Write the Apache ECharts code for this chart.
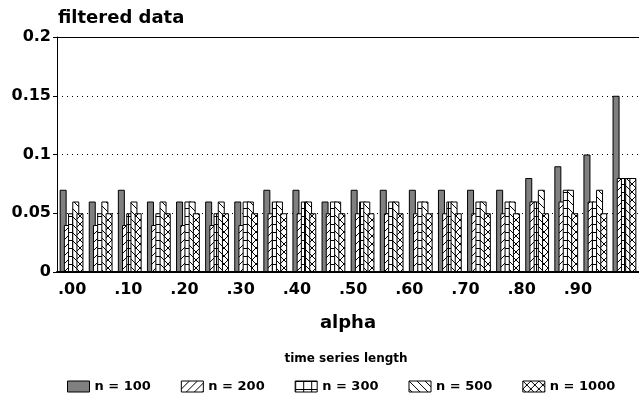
<!DOCTYPE html>
<html>
<head>
<meta charset="utf-8">
<script src="https://cdn.jsdelivr.net/npm/echarts@6/dist/echarts.min.js"></script>
<style>
  html, body { margin: 0; background: #fff; }
  #chart { width: 639px; height: 399px; }
</style>
</head>
<body>
<div id="chart"></div>
<script>
// alpha categories and the labels shown under the axis
const alphas = ['.00', '.05', '.10', '.15', '.20', '.25', '.30', '.35', '.40', '.45',
                '.50', '.55', '.60', '.65', '.70', '.75', '.80', '.85', '.90', '.95'];
const tickLabels = alphas.filter((a, i) => i % 2 === 0);

// values per time series length
const n100  = [0.07, 0.06, 0.07, 0.06, 0.06, 0.06, 0.06, 0.07, 0.07, 0.06, 0.07, 0.07, 0.07, 0.07, 0.07, 0.07, 0.08, 0.09, 0.10, 0.15];
const n200  = [0.04, 0.04, 0.04, 0.04, 0.04, 0.04, 0.04, 0.05, 0.05, 0.05, 0.05, 0.05, 0.05, 0.05, 0.05, 0.05, 0.06, 0.06, 0.06, 0.08];
const n300  = [0.05, 0.05, 0.05, 0.05, 0.06, 0.05, 0.06, 0.06, 0.06, 0.06, 0.06, 0.06, 0.06, 0.06, 0.06, 0.06, 0.06, 0.07, 0.06, 0.08];
const n500  = [0.06, 0.06, 0.06, 0.06, 0.06, 0.06, 0.06, 0.06, 0.06, 0.06, 0.06, 0.06, 0.06, 0.06, 0.06, 0.06, 0.07, 0.07, 0.07, 0.08];
const n1000 = [0.05, 0.05, 0.05, 0.05, 0.05, 0.05, 0.05, 0.05, 0.05, 0.05, 0.05, 0.05, 0.05, 0.05, 0.05, 0.05, 0.05, 0.05, 0.05, 0.08];

const FONT = 'DejaVu Sans';

// small hatch tiles used as bar fills
function hatch(kind) {
  const s = 8;
  const c = document.createElement('canvas');
  c.width = s; c.height = s;
  const g = c.getContext('2d');
  g.fillStyle = '#fff';
  g.fillRect(0, 0, s, s);
  g.strokeStyle = '#000';
  g.lineWidth = 1;
  g.beginPath();
  if (kind === '/' || kind === 'x') { g.moveTo(0, s); g.lineTo(s, 0); }
  if (kind === '\\' || kind === 'x') { g.moveTo(0, 0); g.lineTo(s, s); }
  if (kind === '+') {
    g.moveTo(0.5, 0); g.lineTo(0.5, s);
    g.moveTo(0, 0.5); g.lineTo(s, 0.5);
  }
  g.stroke();
  return { image: c, repeat: 'repeat' };
}

function bar(name, data, color) {
  return {
    name, type: 'bar', data,
    xAxisIndex: 0, yAxisIndex: 0,
    barWidth: 7, barGap: '-40%',
    itemStyle: { color, borderColor: '#000', borderWidth: 1 },
  };
}

const chart = echarts.init(document.getElementById('chart'));
chart.setOption({
  animation: false,
  textStyle: { fontFamily: FONT },
  title: [
    { text: 'filtered data', left: 53, top: 4,
      textStyle: { fontFamily: FONT, fontSize: 18, fontWeight: 'bold', color: '#000' } },
    { text: 'alpha', left: 343, top: 309, textAlign: 'center',
      textStyle: { fontFamily: FONT, fontSize: 18, fontWeight: 'bold', color: '#000' } },
    { text: 'time series length', left: 341, top: 348, textAlign: 'center',
      textStyle: { fontFamily: FONT, fontSize: 12, fontWeight: 'bold', color: '#000' } },
  ],
  legend: {
    left: 67, top: 380, padding: 0,
    icon: 'rect', itemWidth: 22, itemHeight: 11, itemGap: 30,
    itemStyle: { borderColor: '#000', borderWidth: 1 },
    textStyle: { fontFamily: FONT, fontSize: 13, fontWeight: 'bold', color: '#000' },
  },
  grid: [
    { left: 57, top: 37, width: 590, height: 235 },
    { left: 44, top: 37, width: 562, height: 235 },
  ],
  xAxis: [
    {
      type: 'category', data: alphas, gridIndex: 0,
      axisLine: { lineStyle: { color: '#000', width: 2 } },
      axisTick: { show: false },
      axisLabel: { show: false },
    },
    {
      type: 'category', data: tickLabels, gridIndex: 1,
      axisLine: { show: false },
      axisTick: { show: false },
      axisLabel: { fontFamily: FONT, fontSize: 16, fontWeight: 'bold', color: '#000', margin: 10 },
    },
  ],
  yAxis: [
    {
      type: 'value', gridIndex: 0, min: 0, max: 0.2, interval: 0.05,
      axisLine: { show: true, lineStyle: { color: '#000', width: 1 } },
      axisTick: { show: true, length: 4, lineStyle: { color: '#000' } },
      axisLabel: { fontFamily: FONT, fontSize: 16, fontWeight: 'bold', color: '#000', margin: 6 },
      splitLine: { lineStyle: { color: '#000', width: 1, type: [1, 4] } },
    },
    {
      type: 'value', gridIndex: 1, min: 0, max: 0.2, show: false,
    },
  ],
  graphic: [
    // solid frame line at the top of the plot
    { type: 'line', shape: { x1: 57, y1: 37.5, x2: 639, y2: 37.5 }, style: { stroke: '#000', lineWidth: 1 }, z: 10 },
  ],
  series: [
    bar('n = 100', n100, '#808080'),
    bar('n = 200', n200, hatch('/')),
    bar('n = 300', n300, hatch('+')),
    bar('n = 500', n500, hatch('\\')),
    bar('n = 1000', n1000, hatch('x')),
  ],
});
</script>
</body>
</html>
